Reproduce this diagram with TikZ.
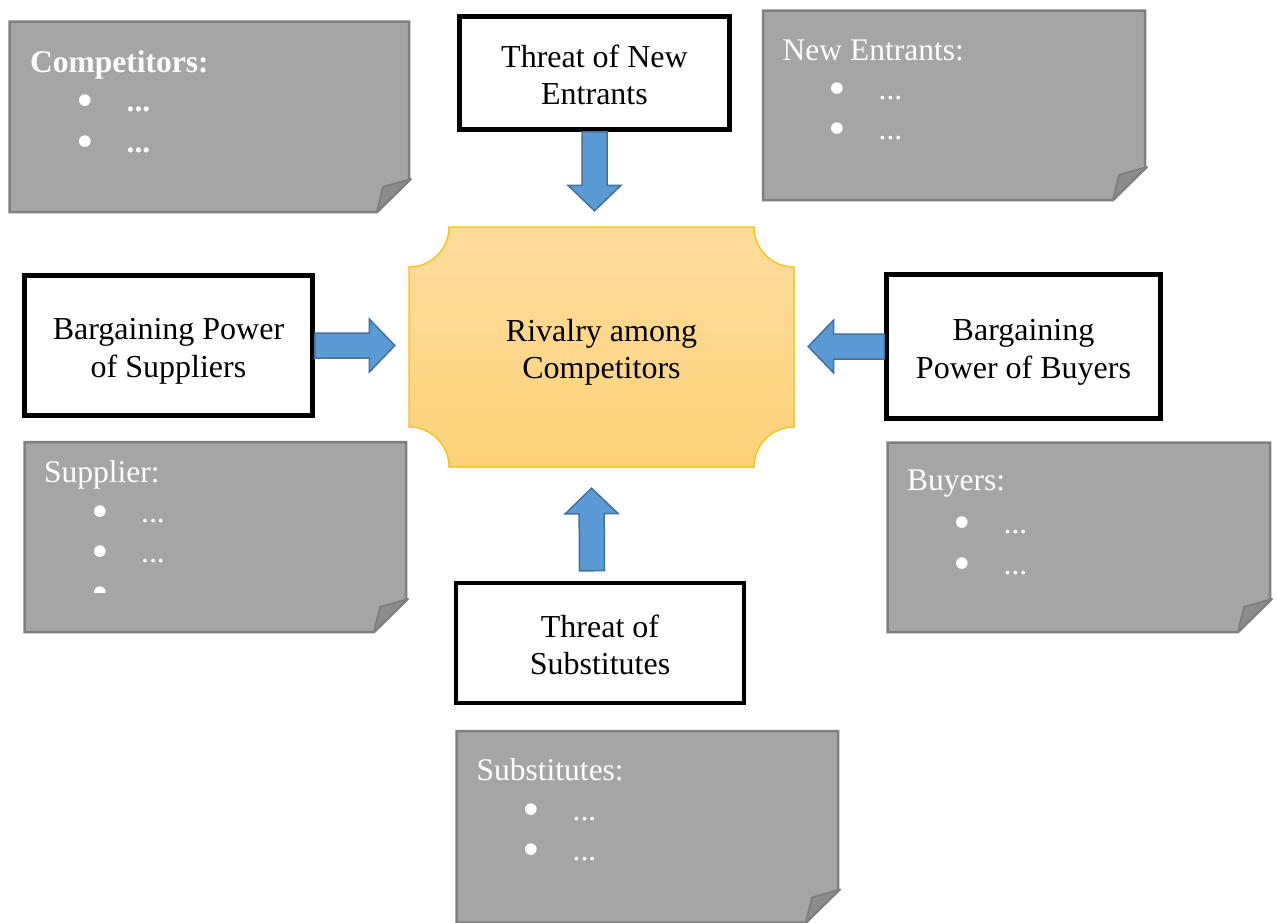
\documentclass[tikz,border=0pt]{standalone}
\usepackage{fontspec}
\setmainfont{Liberation Serif}
\newfontfamily\bulletfont{DejaVu Sans}
\usetikzlibrary{calc,backgrounds}

\definecolor{notefill}{HTML}{A5A5A5}
\definecolor{noteline}{HTML}{7F7F7F}
\definecolor{notefoldc}{HTML}{8C8C8C}
\definecolor{arrfill}{HTML}{5B9BD5}
\definecolor{arrline}{HTML}{41719C}
\definecolor{rivline}{HTML}{FFC000}
\definecolor{rivtop}{RGB}{253,220,155}
\definecolor{rivbot}{RGB}{254,210,122}

\tikzset{
  forcebox/.style={draw=black, fill=white, line width=4.5pt, inner sep=0pt,
    align=center, font=\fontsize{32}{37.5}\selectfont,
    text height=63pt, text depth=0pt},
  notebody/.style={fill=notefill, draw=noteline, line width=2.5pt, line join=miter},
  notefold/.style={fill=notefoldc, draw=noteline, line width=2pt, line join=round},
  notetitle/.style={anchor=base west, inner sep=0pt, text=white,
    font=\fontsize{31.5}{38}\selectfont},
  bulletmark/.style={anchor=base, inner sep=0pt, text=white, yshift=-4pt,
    font=\bulletfont\fontsize{40}{40}\selectfont},
  itemtext/.style={anchor=base west, inner sep=0pt, text=white,
    font=\fontsize{31.5}{38}\selectfont},
  blockarrow/.style={fill=arrfill, draw=arrline, line width=1.5pt, line join=miter},
}

% sticky note with a folded lower right corner: left, top, right, bottom
\newcommand\stickynote[4]{%
  \filldraw[notebody] (#1,#2) -- (#3,#2) -- (#3,#4-32) -- (#3-32,#4) -- (#1,#4) -- cycle;
  \filldraw[notefold] (#3+2,#4-33) -- (#3-26,#4-25) -- (#3-32,#4) -- cycle;
}

% block arrow from a tail point to a tip point
\newcommand\forcearrow[2]{%
  \filldraw[blockarrow] let \p1=#1, \p2=#2,
      \n1={atan2(\y2-\y1,\x2-\x1)}, \n2={veclen(\x2-\x1,\y2-\y1)} in
    [shift={(\p1)}, rotate=\n1]
    (0,-12.5) -- ({\n2-25.5},-12.5) -- ({\n2-25.5},-26.5) -- (\n2,0)
    -- ({\n2-25.5},26.5) -- ({\n2-25.5},12.5) -- (0,12.5) -- cycle;
}

\begin{document}
\begin{tikzpicture}[x=1pt, y=-1pt]
\useasboundingbox (0,0) rectangle (1277,922);

% ---------- central force ----------
\node[inner sep=0pt, minimum width=385pt, minimum height=240pt, align=center,
      font=\fontsize{32}{37.5}\selectfont, text height=63pt, text depth=0pt]
      (riv) at (601.5,347) {Rivalry among\\Competitors};
\begin{scope}[on background layer]
  \filldraw[draw=rivline, line width=1.2pt, top color=rivtop, bottom color=rivbot]
    (449,227) -- (754,227) .. controls (754,249.1) and (771.9,267) .. (794,267)
    -- (794,427) .. controls (771.9,427) and (754,444.9) .. (754,467)
    -- (449,467) .. controls (449,444.9) and (431.1,427) .. (409,427)
    -- (409,267) .. controls (431.1,267) and (449,249.1) .. (449,227) -- cycle;
\end{scope}

% ---------- outer forces ----------
\node[forcebox, minimum width=270pt, minimum height=113pt] (ne) at (594.5,73)
  {Threat of New\\Entrants};
\node[forcebox, minimum width=288pt, minimum height=140pt] (sup) at (168.5,345.5)
  {Bargaining Power\\of Suppliers};
\node[forcebox, minimum width=274pt, minimum height=144pt] (buy) at (1023.5,346.5)
  {Bargaining\\Power of Buyers};
\node[forcebox, minimum width=288pt, minimum height=120pt] (subs) at (600,643)
  {Threat of\\Substitutes};

% ---------- arrows into the centre ----------
\forcearrow{(ne.south)}{($(ne.south |- riv.north)+(0,-16)$)}
\forcearrow{(sup.east)}{($(sup.east -| riv.west)+(-14,0)$)}
\forcearrow{(buy.west)}{($(buy.west -| riv.east)+(14,0)$)}
\forcearrow{($(subs.north)+(-8,-10)$)}{($(riv.south)+(-10,21)$)}

% ---------- notes ----------
% competitors
\stickynote{9.5}{21.5}{409}{212}
\node[notetitle, font=\fontsize{31.5}{38}\selectfont\bfseries] (comp-title) at (30,72.7) {Competitors:};
\node[bulletmark] (comp-b1) at (85.3,111.7) {•};
\node[itemtext, font=\fontsize{31.5}{38}\selectfont\bfseries] (comp-i1) at (126.5,111.7) {...};
\node[bulletmark] (comp-b2) at (85.3,152.7) {•};
\node[itemtext, font=\fontsize{31.5}{38}\selectfont\bfseries] (comp-i2) at (126.5,152.7) {...};

% new entrants
\stickynote{763}{10.5}{1145}{200}
\node[notetitle] (ne-title) at (782.5,60) {New Entrants:};
\node[bulletmark] (ne-b1) at (837.7,99) {•};
\node[itemtext] (ne-i1) at (878.5,99) {...};
\node[bulletmark] (ne-b2) at (837.7,139.7) {•};
\node[itemtext] (ne-i2) at (878.5,139.7) {...};

% suppliers
\stickynote{24.5}{442}{406}{632}
\begin{scope}
  \clip (24.5,442) rectangle (406,592);
  \node[notetitle] (sup-title) at (44,482.3) {Supplier:};
  \node[bulletmark] (sup-b1) at (100,522.3) {•};
  \node[itemtext] (sup-i1) at (141,522.3) {...};
  \node[bulletmark] (sup-b2) at (100,562.7) {•};
  \node[itemtext] (sup-i2) at (141,562.7) {...};
  \node[bulletmark] (sup-b3) at (100,603.3) {•};
\end{scope}

% buyers
\stickynote{887.5}{442.5}{1270}{632}
\node[notetitle] (buy-title) at (907,490) {Buyers:};
\node[bulletmark] (buy-b1) at (962,533) {•};
\node[itemtext] (buy-i1) at (1003.5,533) {...};
\node[bulletmark] (buy-b2) at (962,574) {•};
\node[itemtext] (buy-i2) at (1003.5,574) {...};

% substitutes
\stickynote{456.5}{731}{838}{922.5}
\node[notetitle] (subs-title) at (476.5,780.7) {Substitutes:};
\node[bulletmark] (subs-b1) at (531.7,820.7) {•};
\node[itemtext] (subs-i1) at (572.5,820.7) {...};
\node[bulletmark] (subs-b2) at (531.7,860.7) {•};
\node[itemtext] (subs-i2) at (572.5,860.7) {...};
\end{tikzpicture}
\end{document}
